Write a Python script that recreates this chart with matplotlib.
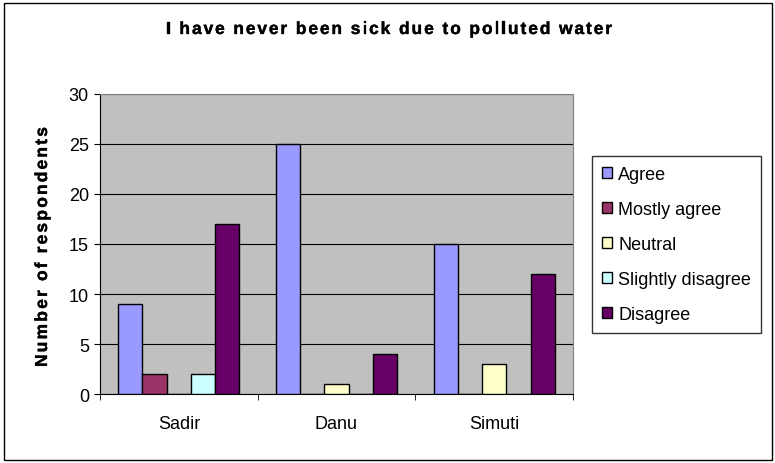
import matplotlib
matplotlib.use("Agg")
import matplotlib.pyplot as plt
from matplotlib.patches import Rectangle
from matplotlib.font_manager import FontProperties
import matplotlib.patheffects as pe
import numpy as np

plt.rcParams['font.family'] = ['Liberation Sans', 'DejaVu Sans']

villages = ["Sadir", "Danu", "Simuti"]
responses = ["Agree", "Mostly agree", "Neutral", "Slightly disagree", "Disagree"]
agree = [9, 25, 15]
mostly_agree = [2, 0, 0]
neutral = [0, 1, 3]
slightly_disagree = [2, 0, 0]
disagree = [17, 4, 12]
colors = ["#9999FF", "#993366", "#FFFFCC", "#CCFFFF", "#660066"]

series = [agree, mostly_agree, neutral, slightly_disagree, disagree]

W, H = 775, 464
fig = plt.figure(figsize=(W / 100, H / 100), dpi=100)
fig.patches.append(Rectangle((3.5 / W, 3.5 / H), (W - 7) / W, (H - 7) / H, transform=fig.transFigure,
                             fill=False, edgecolor="black", linewidth=1.0))
ax = fig.add_axes([100 / W, 1 - 395 / H, 473 / W, 300 / H])
ax.set_facecolor("#C0C0C0")

n = len(series)
gap = 1.5
w = 1.0 / (n + gap)
x = np.arange(len(villages))
for i, (vals, c, lab) in enumerate(zip(series, colors, responses)):
    offs = -0.5 + (gap / 2) * w + (i + 0.5) * w
    ax.bar(x + offs, vals, width=w, color=c, edgecolor="black", linewidth=1.0, label=lab, zorder=3)

ax.set_xlim(-0.5, len(villages) - 0.5)
ax.set_ylim(0, 30)
ax.set_yticks(range(0, 31, 5))
ax.yaxis.grid(True, color="black", linewidth=0.8, zorder=1)
ax.set_xticks(x)
ax.set_xticklabels(villages, fontsize=13)
ax.set_xticks(np.arange(-0.5, len(villages), 1), minor=True)
ax.tick_params(axis="x", which="major", length=0, pad=15)
ax.tick_params(axis="x", which="minor", length=4, direction="out", color="black")
ax.tick_params(axis="y", length=4, direction="out", labelsize=13, pad=4)
for s in ["top", "right"]:
    ax.spines[s].set_color("#808080")
    ax.spines[s].set_linewidth(0.8)
ax.spines["left"].set_color("black")
ax.spines["bottom"].set_color("black")

renderer = fig.canvas.get_renderer()


def spaced_text(s, cx, cy, size, length, rotation=0):
    """Draw bold text centred on pixel (cx, cy) (baseline), letter-spaced to span `length` px."""
    fp = FontProperties(family=['Liberation Sans', 'DejaVu Sans'], weight="bold", size=size)

    def advance(t):
        ref = renderer.get_text_width_height_descent("|", fp, ismath=False)[0]
        return renderer.get_text_width_height_descent(t + "|", fp, ismath=False)[0] - ref

    natural = advance(s)
    spacing = max(0.0, (length - natural) / (len(s) - 1))
    start = -length / 2
    for i, ch in enumerate(s):
        pos = start + advance(s[:i]) + i * spacing
        if rotation == 0:
            px, py = cx + pos, cy
        else:
            px, py = cx, cy - pos
        fig.text(px / W, 1 - py / H, ch, fontproperties=fp, rotation=rotation,
                 rotation_mode="anchor", ha="left", va="baseline",
                 path_effects=[pe.withStroke(linewidth=0.25, foreground="black")])


spaced_text("I have never been sick due to polluted water", 389, 35, 12.5, 446)
spaced_text("Number of respondents", 47, 248, 12.5, 240, rotation=90)

leg = ax.legend(loc="upper left", bbox_to_anchor=(592 / W, 1 - 157 / H), bbox_transform=fig.transFigure,
                frameon=True, fancybox=False, fontsize=13, handlelength=0.55, handleheight=0.55,
                handletextpad=0.35, labelspacing=1.0, borderpad=0.55, borderaxespad=0)
leg.get_frame().set_edgecolor("black")
leg.get_frame().set_linewidth(1.0)

fig.savefig("out.png", dpi=100)
